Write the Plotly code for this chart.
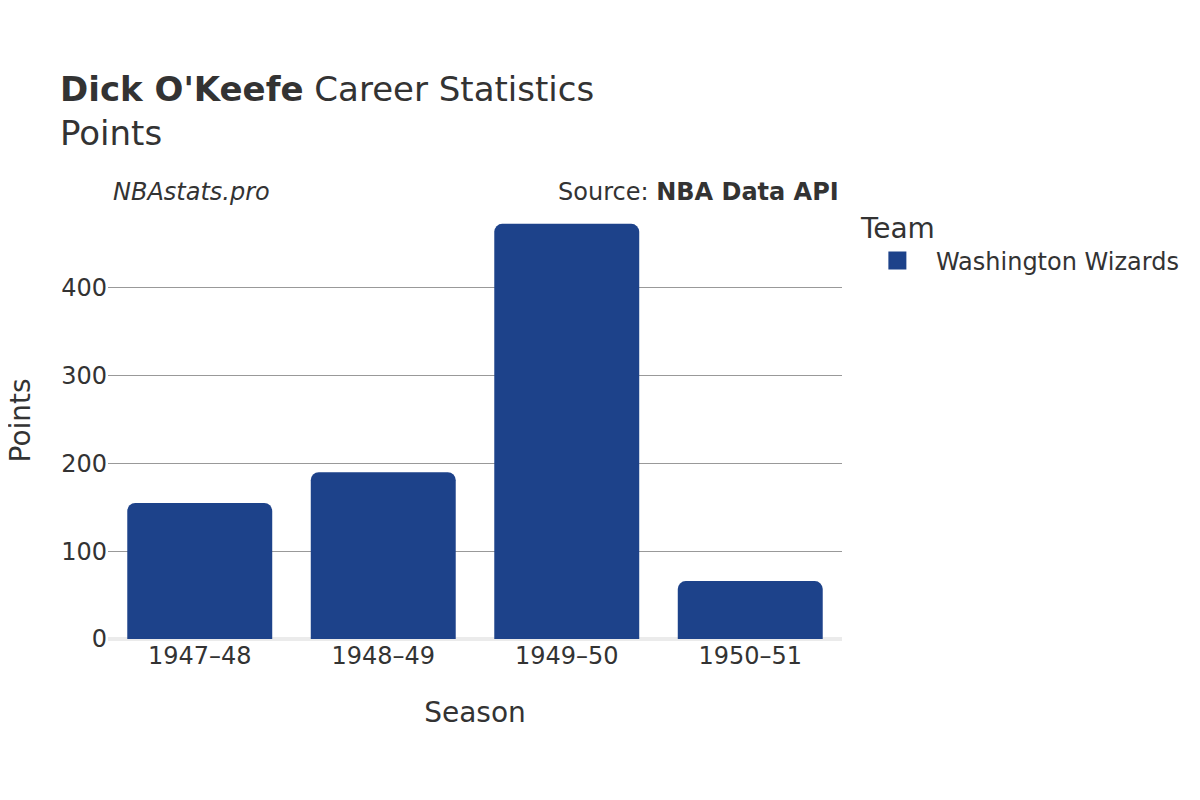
import plotly.graph_objects as go

seasons = ["1947–48", "1948–49", "1949–50", "1950–51"]
points = [155, 190, 473, 66]
team = "Washington Wizards"
color = "#1d428a"

fig = go.Figure()
fig.add_trace(go.Bar(x=seasons, y=points, name=team, marker=dict(color=color, line=dict(width=0)),
                     showlegend=False))
# legend entry with a larger swatch
fig.add_trace(go.Scatter(x=[None], y=[None], mode="markers", name=team,
                         marker=dict(symbol="square", size=20, color=color,
                                     line=dict(width=2, color=color)),
                         showlegend=True))

fig.update_layout(
    width=1200, height=800,
    font=dict(family="DejaVu Sans", color="#333333", size=24),
    paper_bgcolor="white", plot_bgcolor="white",
    margin=dict(l=100, r=366, t=194, b=169),
    barcornerradius=8,
    bargap=0.21,
    title=dict(text="<b>Dick O'Keefe</b> Career Statistics<br>Points", x=52 / 1200, xanchor="left",
               y=0.884, yanchor="top", font=dict(size=34, color="#333333")),
    xaxis=dict(title=dict(text="Season", font=dict(size=28), standoff=33), tickfont=dict(size=24),
               showgrid=False, showline=False, ticks="", automargin=False),
    yaxis=dict(tickfont=dict(size=24),
               showgrid=True, gridcolor="#999999", gridwidth=1, zeroline=True, zerolinecolor="#ebebeb",
               zerolinewidth=4, tickvals=[0, 100, 200, 300, 400], ticks="", showline=False,
               automargin=False),
    legend=dict(title=dict(text="Team", font=dict(size=28)), font=dict(size=24), x=1.023, xanchor="left",
                y=1.0, yanchor="top", itemsizing="trace", itemwidth=67),
    annotations=[
        dict(text="Points", textangle=-90, x=0.0, xref="paper", xanchor="center", xshift=-88,
             y=0.5, yref="paper", yanchor="middle", showarrow=False, font=dict(size=28)),
        dict(text="<i>NBAstats.pro</i>", x=0.0, xref="paper", xanchor="left", xshift=3,
             y=1.0, yref="paper", yanchor="middle", yshift=10, showarrow=False, font=dict(size=24)),
        dict(text="Source: <b>NBA Data API</b>", x=1.0, xref="paper", xanchor="right", xshift=-1,
             y=1.0, yref="paper", yanchor="middle", yshift=10, showarrow=False, font=dict(size=24)),
    ],
)

fig.write_html("out.html")
